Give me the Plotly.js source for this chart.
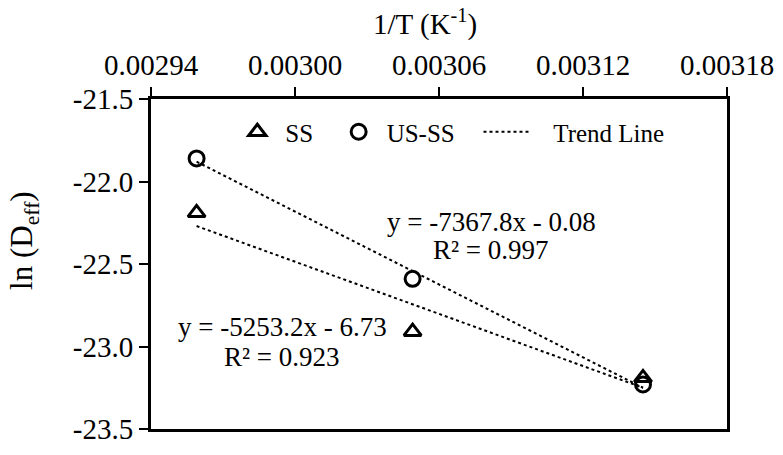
<!DOCTYPE html>
<html>
<head>
<meta charset="utf-8">
<script src="https://cdn.plot.ly/plotly-3.0.1.min.js"></script>
<style>
  body { margin: 0; background: #fff; }
  #plot { width: 783px; height: 455px; }
</style>
</head>
<body>
<div id="plot"></div>
<script>
// 1/T values (K^-1) for the three temperatures
let invT = [0.002959, 0.003049, 0.003145];

// ln(Deff) for each drying method
let ssLnD = [-22.19, -22.91, -23.19];
let ussLnD = [-21.86, -22.59, -23.23];

// trend line end points
let trendX = [0.002959, 0.003145];
let ssTrend = [-22.27, -23.25];
let ussTrend = [-21.88, -23.25];

// tick labels
let xTickVals = [0.00294, 0.00300, 0.00306, 0.00312, 0.00318];
let xTickText = ["0.00294", "0.00300", "0.00306", "0.00312", "0.00318"];
let yTickVals = [-23.5, -23.0, -22.5, -22.0, -21.5];
let yTickText = ["-23.5", "-23.0", "-22.5", "-22.0", "-21.5"];

let serif = "Liberation Serif";
let nb = "\u00a0";

let traceSS = {
  x: invT,
  y: ssLnD,
  mode: "markers",
  type: "scatter",
  name: "SS" + nb + nb,
  legendrank: 1,
  marker: { symbol: "triangle-up-open", size: 15, color: "#000", line: { width: 3, color: "#000" } }
};

let traceUSS = {
  x: invT,
  y: ussLnD,
  mode: "markers",
  type: "scatter",
  name: "US-SS" + nb + nb + nb,
  legendrank: 2,
  marker: { symbol: "circle-open", size: 15, color: "#000", line: { width: 3, color: "#000" } }
};

let trendSS = {
  x: trendX,
  y: ssTrend,
  mode: "lines",
  type: "scatter",
  name: nb + nb + nb + "Trend Line",
  legendrank: 3,
  line: { color: "#000", width: 2, dash: "dot" }
};

let trendUSS = {
  x: trendX,
  y: ussTrend,
  mode: "lines",
  type: "scatter",
  name: "Trend Line",
  showlegend: false,
  line: { color: "#000", width: 2, dash: "dot" }
};

let traceData = [trendSS, trendUSS, traceSS, traceUSS];

let annFont = { family: serif, size: 27, color: "#000" };

let layout = {
  width: 783,
  height: 455,
  margin: { l: 151, r: 56, t: 99, b: 26 },
  paper_bgcolor: "#fff",
  plot_bgcolor: "#fff",
  font: { family: serif, color: "#000", size: 29 },
  showlegend: true,
  legend: {
    orientation: "h",
    x: 0.136, xanchor: "left",
    y: 0.9, yanchor: "middle",
    itemwidth: 46,
    font: { family: serif, size: 25, color: "#000" },
    bgcolor: "rgba(0,0,0,0)"
  },
  xaxis: {
    side: "top",
    range: [0.00294, 0.00318],
    tickvals: xTickVals,
    ticktext: xTickText,
    ticks: "outside",
    ticklen: 9,
    tickwidth: 2,
    tickcolor: "#000",
    showline: true,
    linewidth: 3,
    linecolor: "#000",
    mirror: true,
    showgrid: false,
    zeroline: false,
    tickfont: { family: serif, size: 29, color: "#000" }
  },
  yaxis: {
    range: [-23.5, -21.5],
    tickvals: yTickVals,
    ticktext: yTickText,
    ticksuffix: nb + nb + "\u2009",
    ticks: "outside",
    ticklen: 9,
    tickwidth: 2,
    tickcolor: "#000",
    showline: true,
    linewidth: 3,
    linecolor: "#000",
    mirror: true,
    showgrid: false,
    zeroline: false,
    tickfont: { family: serif, size: 29, color: "#000" }
  },
  annotations: [
    // axis titles
    { xref: "paper", yref: "paper", x: 0.4757, y: 1.233, xanchor: "center", yanchor: "middle", text: "1/T (K<sup>-1</sup>)", showarrow: false, font: { family: serif, size: 29, color: "#000" } },
    { xref: "paper", yref: "paper", x: -0.2205, y: 0.573, xanchor: "center", yanchor: "middle", textangle: -90, text: "ln (D<sub>eff</sub>)", showarrow: false, font: { family: serif, size: 31, color: "#000" } },
    // trend line equations
    { xref: "x", yref: "y", x: 0.0030817, y: -22.245, text: "y = -7367.8x - 0.08", showarrow: false, font: annFont },
    { xref: "x", yref: "y", x: 0.0030817, y: -22.415, text: "R² = 0.997", showarrow: false, font: annFont },
    { xref: "x", yref: "y", x: 0.0029946, y: -22.88, text: "y = -5253.2x - 6.73", showarrow: false, font: annFont },
    { xref: "x", yref: "y", x: 0.0029946, y: -23.064, text: "R² = 0.923", showarrow: false, font: annFont }
  ]
};

Plotly.newPlot("plot", traceData, layout, { displayModeBar: false, staticPlot: true });
</script>
</body>
</html>
